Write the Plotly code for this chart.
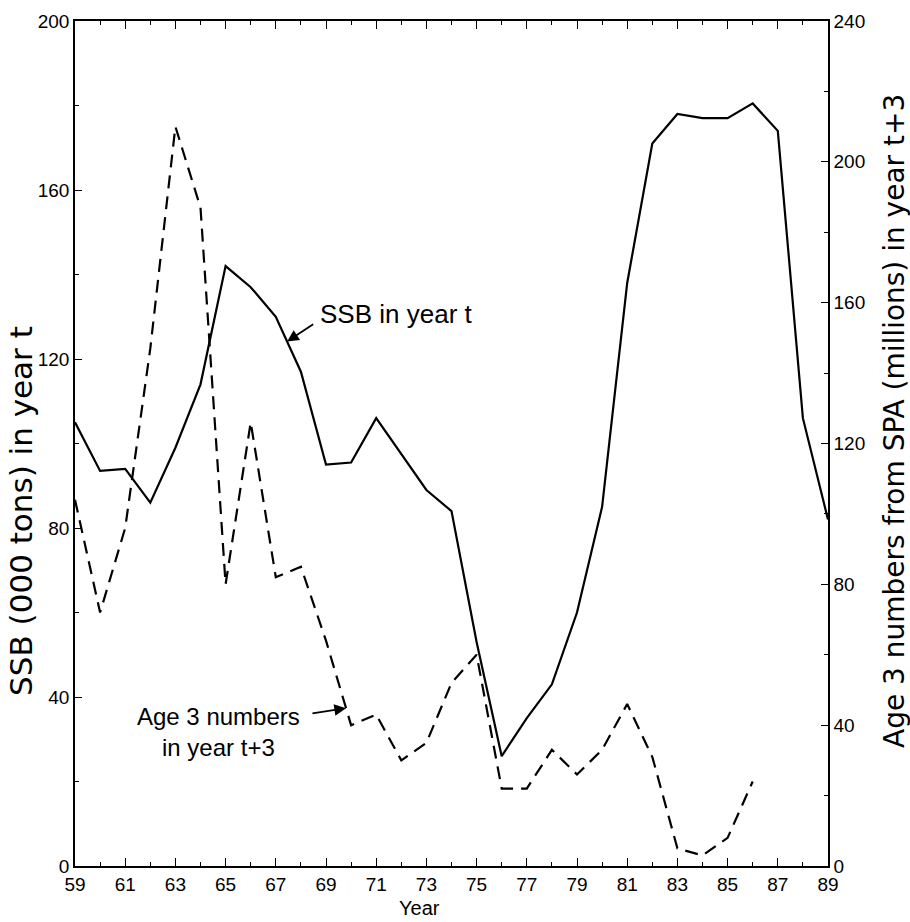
import plotly.graph_objects as go

# ---- data ----
years = list(range(59, 90))
ssb = [105, 93.5, 94, 86, 99, 114, 142, 137, 130, 117, 95, 95.5, 106, 97.5, 89, 84,
       53, 26, 35, 43, 60, 85, 138, 171, 178, 177, 177, 180.5, 174, 106, 82]
age3_years = list(range(59, 87))
age3 = [104, 72, 96, 147, 210, 187, 80, 126, 82, 85, 64, 40, 43, 30, 35, 52, 60,
        22, 22, 33, 26, 33, 46, 31, 5, 3, 8, 24]

x_ticks = list(range(59, 90, 2))
left_ticks = [0, 40, 80, 120, 160, 200]
right_ticks = [0, 40, 80, 120, 160, 200, 240]

FONT = "Liberation Sans, Arial, Helvetica, sans-serif"
WIDE = "DejaVu Sans, Liberation Sans, sans-serif"

fig = go.Figure()
fig.add_trace(go.Scatter(x=years, y=ssb, mode="lines", yaxis="y",
                         line=dict(color="black", width=2.2), hoverinfo="skip"))
fig.add_trace(go.Scatter(x=age3_years, y=age3, mode="lines", yaxis="y2",
                         line=dict(color="black", width=2.2, dash="13px,8px"), hoverinfo="skip"))

axis_common = dict(showgrid=False, zeroline=False, showline=True, linecolor="black",
                   linewidth=1.5, ticks="inside", tickcolor="black", tickwidth=1.2,
                   tickfont=dict(family=FONT, size=19, color="black"))

fig.update_layout(
    width=910, height=922,
    margin=dict(l=75, r=82, t=11, b=56),
    plot_bgcolor="white", paper_bgcolor="white",
    showlegend=False,
    xaxis=dict(range=[59, 89], tickvals=x_ticks, ticktext=[str(v) for v in x_ticks],
               ticklen=8, mirror="ticks",
               minor=dict(dtick=1, tick0=59, ticks="inside", ticklen=4, tickcolor="black"),
               **axis_common),
    yaxis=dict(range=[0, 200], tickvals=left_ticks, ticklen=7,
               minor=dict(tickvals=[20, 60, 100, 140, 180], ticks="inside", ticklen=4,
                          tickcolor="black"),
               **axis_common),
    yaxis2=dict(range=[0, 240], tickvals=right_ticks, ticklen=7, overlaying="y", side="right",
                minor=dict(tickvals=[20, 60, 100, 140, 180, 220], ticks="inside", ticklen=4,
                           tickcolor="black"),
                **axis_common),
)


def interp(xs, ys, x):
    for i in range(len(xs) - 1):
        if xs[i] <= x <= xs[i + 1]:
            t = (x - xs[i]) / (xs[i + 1] - xs[i])
            return ys[i] + t * (ys[i + 1] - ys[i])
    return ys[-1]


ssb_tip_x = 67.45
ssb_tip_y = interp(years, ssb, ssb_tip_x)
age_tip_x = 69.8
age_tip_y = interp(age3_years, age3, age_tip_x)

annotations = [
    # axis titles
    dict(text="SSB (000 tons) in year t", xref="paper", yref="paper", x=-0.072, y=0.42,
         textangle=-90, showarrow=False, xanchor="center", yanchor="middle",
         font=dict(family=WIDE, size=31, color="black")),
    dict(text="Age 3 numbers from SPA (millions) in year t+3", xref="paper", yref="paper",
         x=1.088, y=0.527, textangle=-90, showarrow=False, xanchor="center", yanchor="middle",
         font=dict(family=WIDE, size=28, color="black")),
    dict(text="Year", xref="paper", yref="paper", x=0.458, y=-0.05, showarrow=False,
         xanchor="center", yanchor="middle", font=dict(family=FONT, size=20, color="black")),
    # SSB label with arrow
    dict(text="", x=ssb_tip_x, y=ssb_tip_y, xref="x", yref="y",
         ax=68.55, ay=ssb_tip_y + 4.3, axref="x", ayref="y",
         showarrow=True, arrowhead=2, arrowsize=1.3, arrowwidth=1.8, arrowcolor="black",
         standoff=0, startstandoff=0),
    dict(text="SSB in year t", x=68.7, y=ssb_tip_y + 6.5, xref="x", yref="y",
         showarrow=False, xanchor="left", yanchor="middle",
         font=dict(family=FONT, size=26, color="black")),
    # Age 3 label with arrow
    dict(text="", x=age_tip_x, y=age_tip_y, xref="x", yref="y2",
         ax=68.4, ay=age_tip_y - 1.5, axref="x", ayref="y2",
         showarrow=True, arrowhead=2, arrowsize=1.3, arrowwidth=1.8, arrowcolor="black",
         standoff=0, startstandoff=0),
    dict(text="Age 3 numbers<br>in year t+3", x=68.05, y=age_tip_y - 6.6, xref="x", yref="y2",
         showarrow=False, xanchor="right", yanchor="middle", align="center",
         font=dict(family=FONT, size=24, color="black")),
]
fig.update_layout(annotations=annotations)

fig.write_html("out.html")
